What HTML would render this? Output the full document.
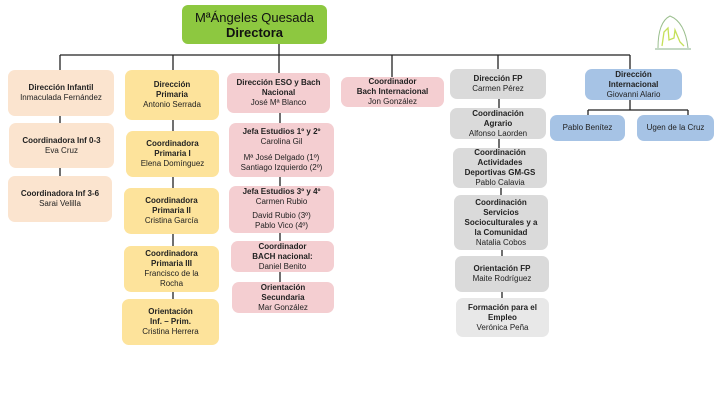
<!DOCTYPE html>
<html><head><meta charset="utf-8">
<style>
html,body{margin:0;padding:0;background:#fff;}
body{width:720px;height:405px;position:relative;overflow:hidden;font-family:"Liberation Sans",sans-serif;color:#222;}
.b{position:absolute;border-radius:7px;display:flex;flex-direction:column;justify-content:center;align-items:center;text-align:center;font-size:8px;line-height:10px;box-sizing:border-box;padding:0 3px;}
.b b{font-weight:bold;}
.pe{background:#fbe4cf;}
.ye{background:#fde39b;}
.pk{background:#f4ced1;}
.gr{background:#dadada;}
.lg{background:#e8e8e8;}
.bl{background:#a6c3e5;}
svg{position:absolute;left:0;top:0;}
</style></head><body>
<svg width="720" height="405">
<g stroke="#222" stroke-width="1.3" fill="none">
<line x1="279" y1="44" x2="279" y2="55"/>
<line x1="60" y1="55" x2="630" y2="55"/>
<line x1="60" y1="55" x2="60" y2="70"/>
<line x1="173" y1="55" x2="173" y2="70"/>
<line x1="279" y1="55" x2="279" y2="73"/>
<line x1="392" y1="55" x2="392" y2="77"/>
<line x1="498" y1="55" x2="498" y2="69"/>
<line x1="630" y1="55" x2="630" y2="69"/>
<line x1="60" y1="116" x2="60" y2="123"/>
<line x1="60" y1="168" x2="60" y2="176"/>
<line x1="173" y1="120" x2="173" y2="131"/>
<line x1="173" y1="177" x2="173" y2="188"/>
<line x1="173" y1="234" x2="173" y2="246"/>
<line x1="173" y1="292" x2="173" y2="299"/>
<line x1="280" y1="113" x2="280" y2="123"/>
<line x1="280" y1="177" x2="280" y2="186"/>
<line x1="280" y1="233" x2="280" y2="241"/>
<line x1="280" y1="272" x2="280" y2="282"/>
<line x1="499" y1="99" x2="499" y2="108"/>
<line x1="499" y1="139" x2="499" y2="148"/>
<line x1="501" y1="188" x2="501" y2="195"/>
<line x1="502" y1="250" x2="502" y2="256"/>
<line x1="502" y1="292" x2="502" y2="298"/>
<line x1="630" y1="100" x2="630" y2="110"/>
<line x1="588" y1="110" x2="688" y2="110"/>
<line x1="588" y1="110" x2="588" y2="115"/>
<line x1="688" y1="110" x2="688" y2="115"/>
</g>
<g fill="none" stroke-width="1">
<path d="M658 48 Q658 22 670 16 Q685 22 688 48" stroke="#9bbf8e"/>
<line x1="655" y1="49" x2="691" y2="49" stroke="#8ab08a"/>
<path d="M662 46 L664 32 L668 28 L669 40 L674 38 L675 30 L680 42 L684 46" stroke="#c5e05a" stroke-width="1.3"/>
</g>
</svg>
<div class="b" style="left:182px;top:5px;width:145px;height:39px;background:#8dc840;font-size:13px;line-height:15px;color:#111;border-radius:6px;"><span>MªÁngeles Quesada</span><b>Directora</b></div>

<div class="b pe" style="left:8px;top:70px;width:106px;height:46px;"><b>Dirección Infantil</b>Inmaculada Fernández</div>
<div class="b pe" style="left:9px;top:123px;width:105px;height:45px;"><b>Coordinadora Inf 0-3</b>Eva Cruz</div>
<div class="b pe" style="left:8px;top:176px;width:104px;height:46px;"><b>Coordinadora Inf 3-6</b>Sarai Velilla</div>

<div class="b ye" style="left:125px;top:70px;width:94px;height:50px;"><b>Dirección<br>Primaria</b>Antonio Serrada</div>
<div class="b ye" style="left:126px;top:131px;width:93px;height:46px;"><b>Coordinadora<br>Primaria I</b>Elena Domínguez</div>
<div class="b ye" style="left:124px;top:188px;width:95px;height:46px;"><b>Coordinadora<br>Primaria II</b>Cristina García</div>
<div class="b ye" style="left:124px;top:246px;width:95px;height:46px;"><b>Coordinadora<br>Primaria III</b>Francisco de la<br>Rocha</div>
<div class="b ye" style="left:122px;top:299px;width:97px;height:46px;"><b>Orientación<br>Inf. – Prim.</b>Cristina Herrera</div>

<div class="b pk" style="left:227px;top:73px;width:103px;height:40px;"><b>Dirección ESO y Bach<br>Nacional</b>José Mª Blanco</div>
<div class="b pk" style="left:229px;top:123px;width:105px;height:54px;"><b>Jefa Estudios 1º y 2º</b>Carolina Gil<span style="height:6px"></span>Mª José Delgado (1º)<br>Santiago Izquierdo (2º)</div>
<div class="b pk" style="left:229px;top:186px;width:105px;height:47px;justify-content:flex-start;padding-top:1px;"><b>Jefa Estudios 3º y 4º</b>Carmen Rubio<span style="height:4px"></span>David Rubio (3º)<br>Pablo Vico (4º)</div>
<div class="b pk" style="left:231px;top:241px;width:103px;height:31px;"><b>Coordinador<br>BACH nacional:</b>Daniel Benito</div>
<div class="b pk" style="left:232px;top:282px;width:102px;height:31px;"><b>Orientación<br>Secundaria</b>Mar González</div>

<div class="b pk" style="left:341px;top:77px;width:103px;height:30px;"><b>Coordinador<br>Bach Internacional</b>Jon González</div>

<div class="b gr" style="left:450px;top:69px;width:96px;height:30px;"><b>Dirección FP</b>Carmen Pérez</div>
<div class="b gr" style="left:450px;top:108px;width:96px;height:31px;"><b>Coordinación<br>Agrario</b>Alfonso Laorden</div>
<div class="b gr" style="left:453px;top:148px;width:94px;height:40px;"><b>Coordinación<br>Actividades<br>Deportivas GM-GS</b>Pablo Calavia</div>
<div class="b gr" style="left:454px;top:195px;width:94px;height:55px;"><b>Coordinación<br>Servicios<br>Socioculturales y a<br>la Comunidad</b>Natalia Cobos</div>
<div class="b gr" style="left:455px;top:256px;width:94px;height:36px;"><b>Orientación FP</b>Maite Rodríguez</div>
<div class="b lg" style="left:456px;top:298px;width:93px;height:39px;"><b>Formación para el<br>Empleo</b>Verónica Peña</div>

<div class="b bl" style="left:585px;top:69px;width:97px;height:31px;"><b>Dirección<br>Internacional</b>Giovanni Alario</div>
<div class="b bl" style="left:550px;top:115px;width:75px;height:26px;">Pablo Benítez</div>
<div class="b bl" style="left:637px;top:115px;width:77px;height:26px;">Ugen de la Cruz</div>
</body></html>
